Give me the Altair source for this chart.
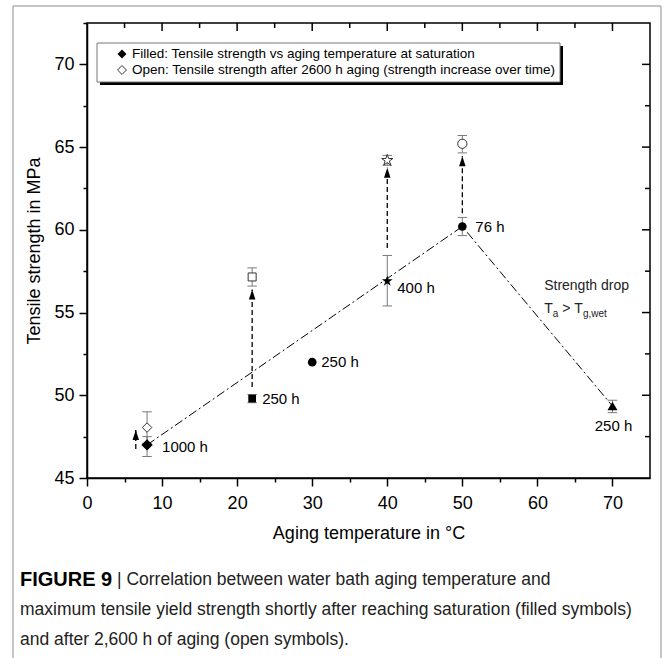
import altair as alt
import pandas as pd

FONT = "Liberation Sans"

# ---------------- data ----------------
# filled symbols: strength at saturation
f_temp = [8, 22, 30, 40, 50, 70]
f_val = [47.0, 49.8, 52.0, 56.9, 60.2, 49.35]
f_lo = [46.3, 49.55, 52.0, 55.4, 59.65, 48.95]
f_hi = [47.5, 50.05, 52.0, 58.45, 60.75, 49.7]
f_symbol = ["diamond", "square", "circle", "star", "circle", "triangle"]
f_label = ["1000 h", "250 h", "250 h", "400 h", "76 h", "250 h"]

# open symbols: strength after 2600 h
o_temp = [8, 22, 40, 50]
o_val = [48.05, 57.15, 64.2, 65.2]
o_lo = [47.1, 56.6, 63.9, 64.65]
o_hi = [49.0, 57.7, 64.5, 65.7]
o_symbol = ["diamond", "square", "star", "circle"]

# dash-dot trend line
trend_temp = [8, 50, 70]
trend_val = [47.0, 60.2, 49.35]

# dashed arrows (increase over time)
arrow_temp = [6.5, 22, 40, 50]
arrow_from = [46.75, 50.5, 58.9, 61.0]
arrow_tip = [47.9, 56.4, 63.75, 64.45]

x_ticks = [0, 5, 10, 15, 20, 25, 30, 35, 40, 45, 50, 55, 60, 65, 70]
y_ticks = [45, 47.5, 50, 52.5, 55, 57.5, 60, 62.5, 65, 67.5, 70, 72.5]
top_major = [10, 20, 30, 40, 50, 60, 70]
top_minor = [5, 15, 25, 35, 45, 55, 65]
right_major = [50, 55, 60, 65, 70]
right_minor = [47.5, 52.5, 57.5, 62.5, 67.5]

legend_labels = [
    "Filled: Tensile strength vs aging temperature at saturation",
    "Open: Tensile strength after 2600 h aging (strength increase over time)",
]
annot_title = "Strength drop"
caption_bold = "FIGURE 9"
caption_lines = [
    "| Correlation between water bath aging temperature and",
    "maximum tensile yield strength shortly after reaching saturation (filled symbols)",
    "and after 2,600 h of aging (open symbols).",
]

# ---------------- styles ----------------
STAR = ("M0,-1L0.225,-0.309L0.951,-0.309L0.363,0.118L0.588,0.809L0,0.382"
        "L-0.588,0.809L-0.363,0.118L-0.951,-0.309L-0.225,-0.309Z")
ARROWHEAD = "M0,0L0.65,2L-0.65,2Z"
FILLED_STYLE = {"diamond": ("diamond", 130), "square": ("square", 60),
                "circle": ("circle", 75), "star": (STAR, 130),
                "triangle": ("triangle-up", 100)}
OPEN_STYLE = {"diamond": ("diamond", 90), "square": ("square", 64),
              "circle": ("circle", 85), "star": (STAR, 140)}
# label offsets (dx, dy, align) for each filled point
LABEL_OFFSETS = [(15, 2, "left"), (10, 0, "left"), (9, 0, "left"),
                 (10, 7, "left"), (13, 0, "left"), (1, 20, "center")]

W, H = 563, 455

xs = alt.Scale(domain=[0, 75], nice=False, zero=False)
ys = alt.Scale(domain=[45, 72.5], nice=False, zero=False)

xaxis = alt.Axis(
    values=x_ticks, grid=False, title="Aging temperature in °C",
    labelExpr="datum.value % 10 === 0 ? datum.label : ''",
    tickSize={"condition": {"test": "datum.value % 10 === 0", "value": 8}, "value": 4},
    labelFontSize=18, titleFontSize=18, labelFont=FONT, titleFont=FONT,
    titleFontWeight="normal", labelColor="black", titleColor="black",
    tickColor="black", domainColor="black", domainWidth=1.5, tickWidth=1.5,
    labelPadding=8, titlePadding=12, labelFlush=False,
)
yaxis = alt.Axis(
    values=y_ticks, grid=False, title="Tensile strength in MPa",
    labelExpr="datum.value % 5 === 0 ? datum.label : ''",
    tickSize={"condition": {"test": "datum.value % 5 === 0", "value": 8}, "value": 4},
    labelFontSize=18, titleFontSize=18, labelFont=FONT, titleFont=FONT,
    titleFontWeight="normal", labelColor="black", titleColor="black",
    tickColor="black", domainColor="black", domainWidth=1.5, tickWidth=1.5,
    labelPadding=5, titlePadding=10, labelFlush=False,
)


def X(field):
    return alt.X(f"{field}:Q", scale=xs, axis=xaxis)


def Y(field):
    return alt.Y(f"{field}:Q", scale=ys, axis=yaxis)


filled = pd.DataFrame({"temp": f_temp, "val": f_val, "lo": f_lo, "hi": f_hi,
                       "sym": f_symbol, "label": f_label})
opened = pd.DataFrame({"temp": o_temp, "val": o_val, "lo": o_lo, "hi": o_hi,
                       "sym": o_symbol})
trend = pd.DataFrame({"temp": trend_temp, "val": trend_val})
arrows = pd.DataFrame({"temp": arrow_temp, "y0": arrow_from, "y1": arrow_tip})
deco = pd.DataFrame({"k": [0]})

layers = []

# frame around figure (page border)
GRAY = "#b0b0b0"
layers.append(alt.Chart(deco).mark_rule(color=GRAY, strokeWidth=1.5).encode(
    x=alt.value(-74), y=alt.value(-17), y2=alt.value(640)))
layers.append(alt.Chart(deco).mark_rule(color=GRAY, strokeWidth=1.5).encode(
    x=alt.value(-74), x2=alt.value(574), y=alt.value(-17)))
layers.append(alt.Chart(deco).mark_rule(color=GRAY, strokeWidth=1.5).encode(
    x=alt.value(574), y=alt.value(-17), y2=alt.value(640)))

# trend line
layers.append(alt.Chart(trend).mark_line(color="black", strokeWidth=1,
                                         strokeDash=[9, 3, 2, 3]).encode(
    x=X("temp"), y=Y("val")))

# arrows
layers.append(alt.Chart(arrows).mark_rule(color="black", strokeWidth=1.3,
                                          strokeDash=[5, 3]).encode(
    x=X("temp"), y=Y("y0"), y2="y1:Q"))
layers.append(alt.Chart(arrows).mark_point(shape=ARROWHEAD, size=100, filled=True,
                                           color="black", opacity=1).encode(
    x=X("temp"), y=Y("y1")))

# error bars
for df in (filled, opened):
    eb = alt.Chart(df).transform_filter("datum.hi > datum.lo")
    layers.append(eb.mark_rule(color="#7a7a7a", strokeWidth=1).encode(
        x=X("temp"), y=Y("lo"), y2="hi:Q"))
    for end in ("lo", "hi"):
        layers.append(eb.mark_point(shape="stroke", size=90, stroke="#7a7a7a",
                                    strokeWidth=1, opacity=1, filled=False).encode(
            x=X("temp"), y=Y(end)))

# open markers
for sym, (shape, size) in OPEN_STYLE.items():
    layers.append(alt.Chart(opened).transform_filter(f"datum.sym === '{sym}'")
                  .mark_point(shape=shape, size=size, filled=True, fill="white",
                              stroke="#333", strokeWidth=1, opacity=1).encode(
        x=X("temp"), y=Y("val")))

# filled markers
for sym, (shape, size) in FILLED_STYLE.items():
    layers.append(alt.Chart(filled).transform_filter(f"datum.sym === '{sym}'")
                  .mark_point(shape=shape, size=size, filled=True, color="black",
                              opacity=1).encode(
        x=X("temp"), y=Y("val")))

# point labels
for i, (dx, dy, align) in enumerate(LABEL_OFFSETS):
    layers.append(alt.Chart(filled).transform_filter(f"datum.temp === {f_temp[i]}")
                  .mark_text(font=FONT, fontSize=15, color="black", align=align,
                             baseline="middle", dx=dx, dy=dy).encode(
        x=X("temp"), y=Y("val"), text="label:N"))

# annotation "Strength drop  Ta > Tg,wet"
ann = pd.DataFrame({"temp": [60.9], "val": [56.6], "val2": [55.2]})
layers.append(alt.Chart(ann).mark_text(font=FONT, fontSize=14, align="left",
                                       baseline="middle", color="#222").encode(
    x=X("temp"), y=Y("val"), text=alt.value(annot_title)))
pieces = [("T", 0, 0, 14), ("a", 8.6, 5, 10), (">", 18, 0, 14),
          ("T", 30, 0, 14), ("g,wet", 38.8, 5, 10)]
for txt, dx, dy, fs in pieces:
    layers.append(alt.Chart(ann).mark_text(font=FONT, fontSize=fs, align="left",
                                           baseline="middle", color="#222",
                                           dx=dx, dy=dy).encode(
        x=X("temp"), y=Y("val2"), text=alt.value(txt)))

# top / right mirrored ticks (inward)
for vals, ln in ((top_major, 8), (top_minor, 5)):
    layers.append(alt.Chart(pd.DataFrame({"t": vals})).mark_rule(
        color="black", strokeWidth=1.5).encode(
        x=X("t"), y=alt.value(0), y2=alt.value(ln)))
for vals, ln in ((right_major, 8), (right_minor, 5)):
    layers.append(alt.Chart(pd.DataFrame({"t": vals})).mark_rule(
        color="black", strokeWidth=1.5).encode(
        y=Y("t"), x=alt.value(W), x2=alt.value(W - ln)))

# legend box
layers.append(alt.Chart(deco).mark_rect(color="black").encode(
    x=alt.value(13), x2=alt.value(476), y=alt.value(23), y2=alt.value(62)))
layers.append(alt.Chart(deco).mark_rect(fill="white", stroke="#777",
                                        strokeWidth=1).encode(
    x=alt.value(10), x2=alt.value(473), y=alt.value(20), y2=alt.value(59)))
layers.append(alt.Chart(deco).mark_point(shape="diamond", size=80, filled=True,
                                         color="black", opacity=1).encode(
    x=alt.value(35), y=alt.value(31)))
layers.append(alt.Chart(deco).mark_point(shape="diamond", size=80, filled=True,
                                         fill="white", stroke="#333",
                                         strokeWidth=1, opacity=1).encode(
    x=alt.value(35), y=alt.value(47)))
for i, lab in enumerate(legend_labels):
    layers.append(alt.Chart(deco).mark_text(font=FONT, fontSize=13.5, align="left",
                                            baseline="middle", color="black").encode(
        x=alt.value(45), y=alt.value(31 + 16 * i), text=alt.value(lab)))

# caption
layers.append(alt.Chart(deco).mark_text(font=FONT, fontSize=20, fontWeight="bold",
                                        align="left", baseline="middle",
                                        color="black").encode(
    x=alt.value(-67), y=alt.value(557), text=alt.value(caption_bold)))
cap_x = [30, -67, -67]
for i, line in enumerate(caption_lines):
    layers.append(alt.Chart(deco).mark_text(font=FONT, fontSize=17.5, align="left",
                                            baseline="middle",
                                            color="#222").encode(
        x=alt.value(cap_x[i]), y=alt.value(557 + 30 * i), text=alt.value(line)))

chart = alt.layer(*layers).properties(
    width=W, height=H,
    autosize=alt.AutoSizeParams(type="none"),
    padding={"left": 87, "top": 23, "right": 13, "bottom": 180},
    background="white",
).configure_view(stroke="black", strokeWidth=1.5)

chart.save("out.html", embed_options={"renderer": "svg", "actions": False})
